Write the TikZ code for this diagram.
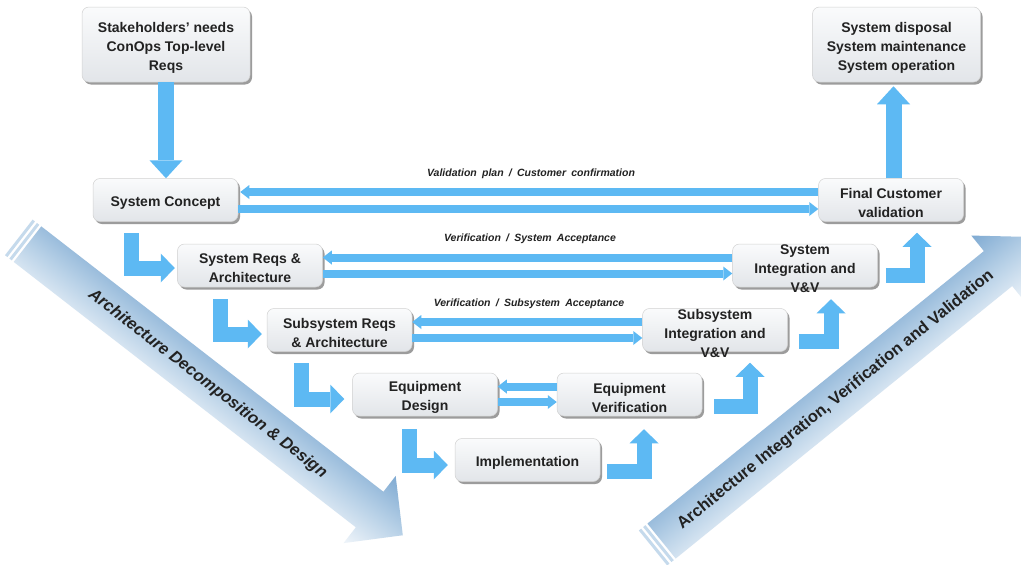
\documentclass[tikz,border=0pt]{standalone}
\usepackage{fontspec}
\setmainfont{Liberation Sans}
\newfontfamily\lblfont[WordSpace=1.8]{Liberation Sans}
\usetikzlibrary{arrows.meta,shadows,calc}

\definecolor{arrowblue}{HTML}{5DB9F3}
\definecolor{bigdark}{HTML}{7FAAD2}
\definecolor{bigmid}{HTML}{B8D1E7}
\definecolor{biglight}{HTML}{F0F5FA}
\definecolor{stripe}{HTML}{C5DAEC}
\definecolor{boxtop}{HTML}{FAFBFC}
\definecolor{boxbot}{HTML}{E2E5E9}
\definecolor{txt}{HTML}{222222}

\begin{document}
\begin{tikzpicture}[x=1pt,y=-1pt,
  box/.style={rectangle, rounded corners=7pt, draw=black!18, line width=0.5pt,
    top color=boxtop, bottom color=boxbot,
    drop shadow={shadow xshift=2pt, shadow yshift=-2.5pt, fill=black!55, opacity=0.7},
    minimum width=145pt, minimum height=43pt, inner sep=0pt,
    label={[boxlabel]center:#1}},
  bigbox/.style={box=#1, minimum width=168pt, minimum height=75pt},
  boxlabel/.style={align=center, font=\bfseries\fontsize{14}{19}\selectfont, text=txt, inner sep=0pt, yshift=-3pt},
  flow/.style={draw=arrowblue, line width=8pt, -{Triangle[width=14pt,length=9pt,line width=0pt]}},
  stair/.style={draw=arrowblue, line width=15pt, -{Triangle[width=29pt,length=14pt,line width=0pt]}},
  vert/.style={draw=arrowblue, line width=16pt, -{Triangle[width=33pt,length=18pt,line width=0pt]}},
  lbl/.style={font=\lblfont\bfseries\itshape\fontsize{10.5}{12}\selectfont, text=txt, inner sep=0pt},
  bigtext/.style={font=\bfseries\fontsize{16.5}{18}\selectfont, text=txt, inner sep=0pt},
  bigarrow/.style={top color=bigdark, bottom color=biglight, middle color=bigmid},
]
\useasboundingbox[fill=white] (0,0) rectangle (1021,565);

% ---- big diagonal arrows ----
\begin{scope}[transform canvas={shift={(18.8,237.4)}, rotate=-37.8}]
  \fill[stripe] (0,-22.5) rectangle (3,22.5);
  \fill[stripe] (5.5,-22.5) rectangle (8.5,22.5);
  \shade[bigarrow] (11,-22.5) -- (444,-22.5) -- (444,-42.5) -- (486,0)
     -- (444,42.5) -- (444,22.5) -- (11,22.5) -- cycle;
  \node[bigtext, font=\bfseries\itshape\fontsize{16.5}{18}\selectfont] (ladt) at (239,0) {Architecture Decomposition \& Design};
\end{scope}
\begin{scope}[transform canvas={shift={(653,548)}, rotate=39}]
  \fill[stripe] (0,-22.5) rectangle (3,22.5);
  \fill[stripe] (5.5,-22.5) rectangle (8.5,22.5);
  \shade[bigarrow] (11,-22.5) -- (444,-22.5) -- (444,-42.5) -- (494,0)
     -- (444,42.5) -- (444,22.5) -- (11,22.5) -- cycle;
  \node[bigtext] (rivv) at (235,0) {Architecture Integration, Verification and Validation};
\end{scope}

% ---- boxes ----
\node[bigbox={Stakeholders' needs\\ConOps Top-level\\Reqs}] (stake) at (166,44.5) {};
\node[bigbox={System disposal\\System maintenance\\System operation}] (disp) at (896.5,44.5) {};
\node[box={System Concept}] (sc) at (165.5,200) {};
\node[box={Final Customer\\validation}] (fc) at (891,200) {};
\node[box={System Reqs \&\\Architecture}] (sra) at (250,265.5) {};
\node[box={System\\Integration and\\V\&V}] (si) at (805,265.5) {};
\node[box={Subsystem Reqs\\\& Architecture}] (ssr) at (339.5,330) {};
\node[box={Subsystem\\Integration and\\V\&V}] (ssi) at (715,330) {};
\node[box={Equipment\\Design}] (ed) at (425,394.5) {};
\node[box={Equipment\\Verification}] (ev) at (629.5,394.5) {};
\node[box={Implementation}] (impl) at (527.5,460) {};

% ---- labels ----
\node[lbl] (l1) at (531,174) {Validation plan / Customer confirmation};
\node[lbl] (l2) at (530,238.5) {Verification / System Acceptance};
\node[lbl] (l3) at (529,303.5) {Verification / Subsystem Acceptance};

% ---- vertical arrows ----
\draw[vert] (stake.south) -- (stake.south |- sc.north);
\draw[vert, shorten >=4pt] ([xshift=2.5pt]fc.north) -- ([xshift=2.5pt]fc.north |- disp.south);

% ---- horizontal pairs ----
\draw[flow, shorten >=2pt] ([yshift=8pt]fc.west) -- ([yshift=8pt]sc.east);
\draw[flow] ([yshift=-9pt]sc.east) -- ([yshift=-9pt]fc.west);
\draw[flow] ([yshift=8pt]si.west) -- ([yshift=8pt]sra.east);
\draw[flow] ([yshift=-8pt]sra.east) -- ([yshift=-8pt]si.west);
\draw[flow] ([yshift=8pt]ssi.west) -- ([yshift=8pt]ssr.east);
\draw[flow] ([yshift=-8pt]ssr.east) -- ([yshift=-8pt]ssi.west);
\draw[flow] ([yshift=8pt]ev.west) -- ([yshift=8pt]ed.east);
\draw[flow] ([yshift=-7.5pt]ed.east) -- ([yshift=-7.5pt]ev.west);

% ---- descending stairs ----
\draw[stair, shorten >=2.5pt] ($(sc.south west)+(39,11.5)$) |- ([yshift=-2.5pt]sra.west);
\draw[stair, shorten >=5pt] ($(sra.south west)+(43.5,12)$) |- ([yshift=-4pt]ssr.west);
\draw[stair, shorten >=8pt] ($(ssr.south west)+(35,11.5)$) |- ([yshift=-4.5pt]ed.west);
\draw[stair, shorten >=7pt] ($(ed.south west)+(57.5,13)$) |- ([yshift=-5pt]impl.west);

% ---- ascending stairs ----
\draw[stair] ([xshift=7pt,yshift=-11.5pt]impl.east) -| ([xshift=14.5pt,yshift=-13pt]ev.south);
\draw[stair] ([xshift=12pt,yshift=-12pt]ev.east) -| ([xshift=35pt,yshift=-11pt]ssi.south);
\draw[stair] ([xshift=11pt,yshift=-11.5pt]ssi.east) -| ([xshift=26pt,yshift=-12pt]si.south);
\draw[stair] ([xshift=8pt,yshift=-9.5pt]si.east) -| ([xshift=26pt,yshift=-11pt]fc.south);
\end{tikzpicture}
\end{document}
